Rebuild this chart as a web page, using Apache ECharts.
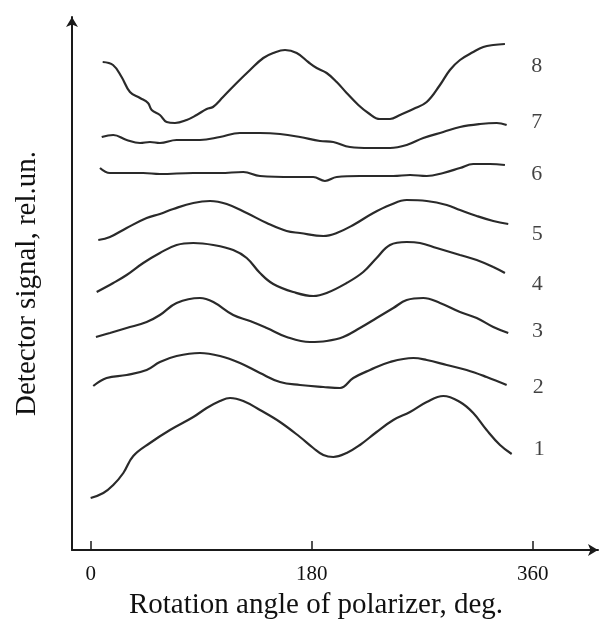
<!DOCTYPE html>
<html>
<head>
<meta charset="utf-8">
<script src="https://cdn.jsdelivr.net/npm/echarts@6/dist/echarts.min.js"></script>
<style>
html,body{margin:0;padding:0;background:#fff;}
#chart{width:606px;height:625px;}
</style>
</head>
<body>
<div id="chart"></div>
<script>
// Rotation angle (deg), detector signal (rel. units)
const curve1 = [[0,52],[10.3,57],[18.4,65],[26.6,77],[34.7,94],[48.3,107],[64.6,120],[83.6,133],[94.5,142],[105.3,149],[113.5,152],[124.3,149],[137.9,140],[154.2,128],[170.5,113],[181.3,102],[189.5,95],[197.6,93],[208.5,97],[219.3,105],[232.9,118],[246.5,130],[260.1,138],[273.7,148],[287.2,154],[300.8,148],[311.6,137],[322.5,120],[333.4,105],[342.9,96]];
const curve2 = [[2.1,164],[13.0,172],[29.3,175],[45.6,180],[56.4,188],[70.0,194],[89.0,197],[105.3,194],[121.6,187],[137.9,177],[154.2,168],[170.5,165],[189.5,163],[203.1,162],[213.9,172],[227.5,180],[243.8,188],[262.8,192],[273.7,190],[290.0,185],[306.2,180],[322.5,173],[338.8,165]];
const curve3 = [[4.3,213],[15.7,217],[29.3,222],[45.6,228],[56.4,235],[70.0,247],[89.0,252],[99.9,248],[116.1,235],[129.8,229],[143.4,222],[159.6,213],[178.6,208],[192.2,209],[205.7,213],[219.3,222],[232.9,232],[246.5,242],[257.4,250],[270.9,252],[284.5,247],[300.8,238],[314.4,232],[327.9,223],[340.1,217]];
const curve4 = [[4.9,258],[18.4,267],[29.3,275],[42.8,287],[56.4,297],[70.0,305],[83.6,307],[99.9,305],[116.1,300],[127.1,292],[137.9,277],[148.7,266],[165.0,258],[181.3,254],[192.2,257],[208.5,267],[222.0,278],[232.9,292],[243.8,305],[257.4,308],[268.2,307],[281.8,302],[300.8,295],[314.4,290],[327.9,283],[337.4,277]];
const curve5 = [[6.2,310],[15.7,313],[29.3,322],[45.6,332],[56.4,336],[67.3,341],[83.6,347],[97.2,349],[110.8,346],[127.1,337],[143.4,327],[159.6,319],[170.5,317],[189.5,314],[200.4,317],[213.9,325],[230.2,337],[243.8,345],[257.4,350],[273.7,349],[290.0,345],[300.8,340],[314.4,334],[327.9,329],[340.1,326]];
const curve6 = [[7.6,382],[15.7,377],[29.3,377],[42.8,377],[56.4,376],[83.6,377],[105.3,377],[124.3,378],[137.9,374],[165.0,373],[181.3,373],[190.8,369],[200.4,373],[219.3,374],[246.5,374],[260.1,375],[273.7,374],[287.2,377],[300.8,382],[311.6,386],[325.2,386],[337.4,385]];
const curve7 = [[9.0,413],[18.4,415],[29.3,410],[40.2,407],[48.3,408],[56.4,407],[70.0,410],[89.0,410],[105.3,413],[121.6,417],[137.9,417],[154.2,416],[170.5,413],[186.8,409],[197.6,408],[211.2,403],[227.5,402],[243.8,402],[257.4,405],[270.9,412],[287.2,418],[300.8,423],[317.1,426],[330.7,427],[338.8,425]];
const curve8 = [[9.8,488],[18.2,485],[25.2,473],[32.0,458],[40.2,452],[46.7,447],[49.7,440],[56.4,435],[61.9,428],[68.7,427],[78.2,430],[86.3,435],[94.5,441],[99.6,443],[107.8,453],[118.9,467],[129.8,480],[140.6,492],[148.7,497],[158.3,500],[167.8,497],[177.2,488],[184.1,482],[192.2,477],[200.4,468],[208.5,457],[218.0,445],[226.1,437],[235.6,431],[243.8,431],[251.9,435],[262.8,441],[273.7,448],[284.5,465],[292.6,480],[300.8,490],[311.6,498],[319.8,503],[327.9,505],[337.4,506]];

const curveNames = ['1','2','3','4','5','6','7','8'];
const labelX = [365.3, 364.5, 364.0, 363.8, 363.7, 363.3, 363.3, 363.3];
const labelY = [101, 163, 219, 266, 316, 376, 428, 484];
const xTicks = [0, 180, 360];

const curves = [curve1, curve2, curve3, curve4, curve5, curve6, curve7, curve8];
const serif = 'Liberation Serif';
const lineColor = '#2a2a2a';
const textColor = '#111111';

const series = curves.map((c, i) => ({
  name: curveNames[i],
  type: 'line',
  data: c,
  smooth: 0.4,
  symbol: 'none',
  lineStyle: { color: lineColor, width: 2.2 },
  silent: true
}));
series.push({
  type: 'scatter',
  symbolSize: 0,
  silent: true,
  data: curveNames.map((n, i) => ({ value: [labelX[i], labelY[i]], name: n })),
  label: {
    show: true,
    position: 'inside',
    formatter: p => p.name,
    fontFamily: serif,
    fontSize: 22,
    color: textColor
  }
});

const chart = echarts.init(document.getElementById('chart'), null, { renderer: 'canvas' });
chart.setOption({
  animation: false,
  backgroundColor: '#ffffff',
  grid: { left: 72, right: 8, top: 17, bottom: 75, containLabel: false },
  xAxis: {
    type: 'value',
    min: -15.2,
    max: 413.2,
    splitLine: { show: false },
    axisLine: { show: true, onZero: false, symbol: ['none', 'arrow'], symbolSize: [9, 10], lineStyle: { color: '#1a1a1a', width: 2 } },
    axisTick: { show: true, inside: true, length: 9, customValues: xTicks, lineStyle: { color: '#1a1a1a', width: 1.5 } },
    axisLabel: { show: true, customValues: xTicks, margin: 14, fontFamily: serif, fontSize: 21, color: textColor },
    name: 'Rotation angle of polarizer, deg.',
    nameLocation: 'middle',
    nameGap: 41,
    nameTextStyle: { fontFamily: serif, fontSize: 29, color: textColor, padding: [0, 38, 0, 0] }
  },
  yAxis: {
    type: 'value',
    min: 0,
    max: 533,
    splitLine: { show: false },
    axisLine: { show: true, onZero: false, symbol: ['none', 'arrow'], symbolSize: [9, 10], lineStyle: { color: '#1a1a1a', width: 2 } },
    axisTick: { show: false },
    axisLabel: { show: false },
    name: 'Detector signal, rel.un.',
    nameLocation: 'middle',
    nameRotate: 90,
    nameGap: 30,
    nameTextStyle: { fontFamily: serif, fontSize: 29, color: textColor }
  },
  series: series
});
</script>
</body>
</html>
